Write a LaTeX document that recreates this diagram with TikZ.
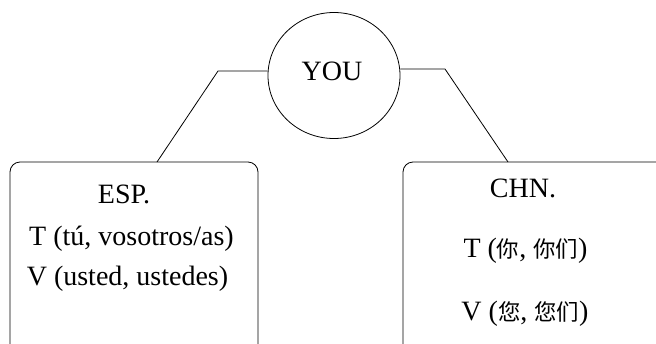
\documentclass[tikz,border=0pt]{standalone}
\usepackage{fontspec}
\setmainfont{Liberation Serif}
\newfontfamily\cjk[Scale=0.8]{Noto Sans CJK SC}
\usetikzlibrary{shapes.geometric}
\tikzset{
  line/.style={draw=black, line width=0.8pt},
  langbox/.style={draw=black, line width=0.8pt, rounded corners=10pt},
  txt/.style={font=\fontsize{28}{32}\selectfont, inner sep=0pt, anchor=base},
}
\begin{document}
\begin{tikzpicture}[x=1pt,y=-1pt]
\useasboundingbox (0,0) rectangle (656,343);
\clip (0,0) rectangle (656,343);
% boxes
\draw[langbox] (10,360) -- (10,162) -- (258,162) -- (258,360);
\draw[langbox] (403,360) -- (403,162) -- (690,162);
% circle
\node[ellipse, draw, line width=0.8pt, minimum width=132pt, minimum height=126pt, inner sep=0pt] (you) at (334,75.5) {};
\node[txt] (youlbl) at (332,80) {YOU};
% connectors
\coordinate (lk) at (218,71);
\coordinate (la) at (157,162);
\coordinate (rk) at (445,69);
\coordinate (ra) at (508,162);
\draw[line] (la) -- (lk) -- (lk -| you.west);
\draw[line] (ra) -- (rk) -- (rk -| you.east);
% left texts
\node[txt] (esp) at (124,203) {ESP.};
\node[txt] (espt) at (131.5,245) {T (tú, vosotros/as)};
\node[txt] (espv) at (127.5,285) {V (usted, ustedes)};
% right texts
\node[txt] (chn) at (523,197) {CHN.};
\node[txt] (chnt) at (525.5,257) {T ({\cjk 你}, {\cjk 你们})};
\node[txt] (chnv) at (525,320) {V ({\cjk 您}, {\cjk 您们})};
\end{tikzpicture}
\end{document}
